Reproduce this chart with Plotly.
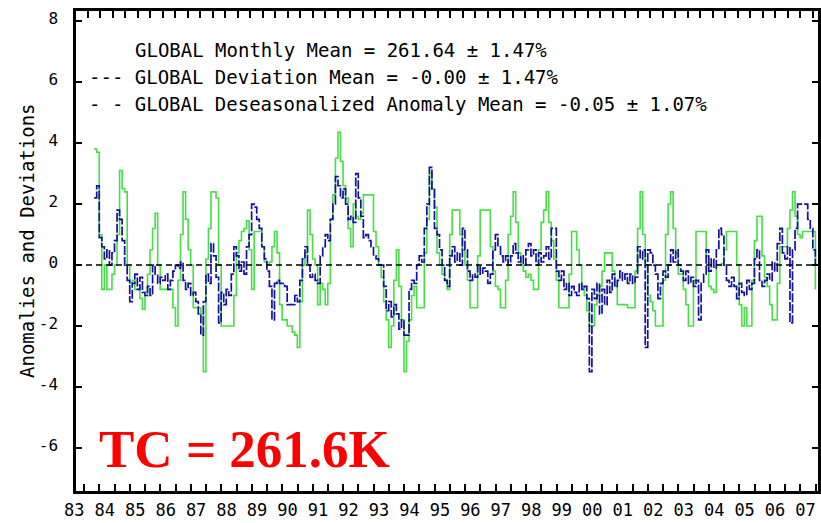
import pandas as pd
import plotly.graph_objects as go

# ---------------- data (monthly, starting Sep 1983) ----------------
g1983 = [3.8, 3.7, 1.0]
g1984 = [-0.8, 0.0, -0.8, -0.8, -0.3, 0.0, 1.0, 3.1, 2.5, 2.4, 0.0, -0.6]
g1985 = [-0.5, -0.8, -0.8, -1.1, -1.45, -1.0, -0.3, 0.5, 1.2, 1.7, 0.0, -0.8]
g1986 = [-0.8, -0.8, -0.8, -0.8, -1.4, -2.0, -0.5, 1.0, 2.4, 1.5, 0.5, 0.0]
g1987 = [-1.4, -1.4, -1.4, -1.6, -3.5, 0.2, 1.2, 2.4, 2.4, 2.2, 0.0, -2.0]
g1988 = [-2.0, -2.0, -2.0, -2.0, -1.0, 0.4, 0.8, 1.1, 1.2, 1.45, 0.5, -0.8]
g1989 = [1.1, 1.1, 1.1, 0.6, 0.1, 0.0, 0.1, 0.6, 1.1, 0.4, -1.3, -1.8]
g1990 = [-1.8, -2.0, -2.0, -2.2, -2.3, -2.7, -1.2, 0.0, 0.4, 1.8, 1.0, 0.2]
g1991 = [0.0, -1.3, -0.6, -0.8, -1.3, -0.6, 1.5, 2.3, 3.5, 4.35, 3.4, 2.6]
g1992 = [2.2, 1.2, 0.6, 2.0, 1.6, 1.5, 1.7, 2.3, 2.3, 2.3, 2.3, 1.1]
g1993 = [0.6, 0.0, -0.4, -1.2, -1.8, -2.7, -2.0, -0.5, 0.5, -0.7, -1.8, -3.5]
g1994 = [-2.5, -1.8, -1.0, -0.7, -1.4, -1.4, -1.4, 0.4, 1.5, 3.0, 2.5, 1.9]
g1995 = [0.4, 0.0, -0.3, -0.5, -0.8, 1.0, 1.8, 1.8, 1.8, 1.0, 0.5, 0.0]
g1996 = [-0.5, -1.4, -1.4, -1.4, 0.3, 1.8, 1.8, 1.8, 1.8, 0.6, -0.2, -0.7]
g1997 = [-0.8, -1.4, -1.4, -0.5, 1.0, 1.6, 2.4, 1.4, 0.4, 0.0, -0.2, -0.4]
g1998 = [-0.3, -0.5, -0.8, -0.8, 0.5, 1.4, 1.8, 2.4, 1.4, 0.8, 0.2, -0.5]
g1999 = [-1.4, -1.4, -1.4, -1.4, -0.3, 1.1, 1.1, 0.5, 0.0, -0.7, -1.0, -1.5]
g2000 = [-2.0, -2.0, -1.3, -1.0, -0.7, -0.2, 0.4, 0.4, 0.4, -0.2, -0.7, -1.3]
g2001 = [-1.3, -1.3, -1.3, -1.4, -1.4, -1.4, -0.2, 1.2, 2.4, 1.0, 0.0, -1.0]
g2002 = [-1.2, -1.5, -2.0, -2.0, -2.0, -0.5, 1.0, 2.0, 2.4, 1.2, 0.4, -0.3]
g2003 = [-0.3, -0.8, -1.3, -2.0, -2.0, -0.5, 1.1, 1.1, 1.1, 1.1, 0.3, -0.7]
g2004 = [-0.8, -0.9, 0.0, 0.0, 0.05, 0.5, 1.1, 1.1, 1.1, 1.1, 0.0, -1.3]
g2005 = [-2.0, -1.4, -2.0, -2.0, -0.5, 0.8, 1.6, 1.6, 0.3, -0.4, -0.7, -1.3]
g2006 = [-1.8, -1.8, -0.6, 0.6, 0.6, 0.6, 1.2, 1.8, 2.4, 1.6, 1.0, 0.9]
g2007 = [1.1, 1.1, 1.1, 1.1, 1.1, -0.8]

b1983 = [2.2, 2.6, 0.9]
b1984 = [0.6, 0.2, 0.5, 0.0, 0.4, 0.8, 1.8, 1.5, 0.8, 0.0, -0.5, -1.2]
b1985 = [-0.6, -0.3, -0.8, -0.4, -0.9, -1.0, -0.7, -1.0, 0.0, -0.3, -0.6, -0.4]
b1986 = [-0.5, -0.3, -0.8, -0.5, -0.2, 0.0, -0.1, 0.1, -0.5, -0.8, -0.6, -1.0]
b1987 = [-0.9, -1.2, -1.6, -2.3, -1.2, -0.3, -0.6, 0.7, 0.3, -0.4, -1.9, -0.9]
b1988 = [-1.3, -0.8, -1.0, -0.3, 0.6, 0.3, -0.2, 0.1, -0.3, 0.6, 1.0, 2.0]
b1989 = [1.9, 1.5, 1.2, 0.6, 0.2, -0.2, -0.7, -1.8, -0.6, -0.5, -0.6, -0.6]
b1990 = [-0.7, -1.3, -1.3, -1.3, -1.0, -1.2, -0.5, 0.2, 0.6, 0.0, -0.4, -0.3]
b1991 = [-0.5, -0.6, 0.3, 0.6, 1.0, 0.8, 1.5, 2.0, 2.9, 2.6, 2.2, 2.5]
b1992 = [2.0, 1.5, 1.6, 1.4, 3.0, 2.2, 1.6, 0.9, 1.0, 0.8, 0.6, 0.3]
b1993 = [0.2, 0.0, 0.0, -0.7, -1.5, -1.2, -1.7, -1.3, -1.6, -2.1, -1.8, -2.3]
b1994 = [-2.3, -0.8, -0.5, -0.6, 0.0, 0.3, 0.1, 1.2, 2.0, 3.2, 2.5, 1.2]
b1995 = [1.0, 0.5, 0.0, -0.5, -0.7, 0.3, 0.6, 0.1, 0.4, 0.0, 1.2, 0.5]
b1996 = [-0.2, -0.5, -0.3, -0.4, 0.0, -0.3, -0.1, -0.2, -0.6, -0.3, 0.5, 1.0]
b1997 = [0.6, 0.3, 0.1, 0.3, 0.0, 0.3, 0.7, 0.4, 0.1, 0.3, 0.0, 0.5]
b1998 = [0.7, 0.3, 0.5, 0.0, 0.4, 0.1, 0.3, 0.6, 0.2, 1.2, 1.2, -0.2]
b1999 = [-0.5, -0.2, -0.8, -0.6, -1.0, -0.7, -0.9, -1.0, -0.6, -0.8, -0.7, -1.1]
b2000 = [-3.5, -0.8, -1.1, -0.6, -1.6, -0.8, -1.3, -0.5, -0.9, -0.3, -0.7, -0.5]
b2001 = [-0.2, -0.5, -0.3, -0.6, -0.3, -0.6, -0.4, 0.6, 0.2, 0.5, -2.7, 0.5]
b2002 = [0.4, 0.0, -0.3, -1.1, -0.6, -0.2, -0.4, 0.0, 0.5, 0.1, 0.5, 0.0]
b2003 = [-0.2, -0.5, -0.2, -0.6, -0.4, -0.7, -0.5, -1.8, -0.6, -0.3, 0.5, -0.2]
b2004 = [0.2, -0.1, 0.5, 1.2, 1.0, 0.0, -0.5, -0.7, -0.4, -0.7, -1.1, -0.6]
b2005 = [-0.9, -1.0, -0.5, -0.8, -0.6, 0.2, 0.5, -0.5, -0.7, -0.5, -0.3, -0.5]
b2006 = [0.1, -0.2, 0.7, 1.2, 0.4, 0.2, 0.6, -1.9, 0.5, 1.2, 2.0, 2.0]
b2007 = [2.0, 2.0, 1.5, 1.2, 0.5, 0.0]

deviation = (g1983 + g1984 + g1985 + g1986 + g1987 + g1988 + g1989 + g1990 + g1991
             + g1992 + g1993 + g1994 + g1995 + g1996 + g1997 + g1998 + g1999 + g2000
             + g2001 + g2002 + g2003 + g2004 + g2005 + g2006 + g2007)
anomaly = (b1983 + b1984 + b1985 + b1986 + b1987 + b1988 + b1989 + b1990 + b1991
           + b1992 + b1993 + b1994 + b1995 + b1996 + b1997 + b1998 + b1999 + b2000
           + b2001 + b2002 + b2003 + b2004 + b2005 + b2006 + b2007)

years = list(range(1983, 2008))
year_labels = ["83", "84", "85", "86", "87", "88", "89", "90", "91", "92", "93", "94", "95",
               "96", "97", "98", "99", "00", "01", "02", "03", "04", "05", "06", "07"]
y_ticks = [-6, -4, -2, 0, 2, 4, 6, 8]
y_tick_labels = ["-6", "-4", "-2", "0", "2", "4", "6", "8"]

legend_lines = [
    "GLOBAL Monthly Mean = 261.64 ± 1.47%",
    "--- GLOBAL Deviation Mean = -0.00 ± 1.47%",
    "- - GLOBAL Deseasonalized Anomaly Mean = -0.05 ± 1.07%",
]
big_label = "TC = 261.6K"
y_title = "Anomalies and Deviations"

# ---------------- build ----------------
months = pd.date_range("1983-09-01", periods=len(deviation), freq="MS")
xdec = [d.year + (d.month - 1) / 12 for d in months]

MONO = "DejaVu Sans Mono"
XR = [1983.07, 2007.42]
YR = [-7.41, 8.33]

fig = go.Figure()
fig.add_trace(go.Scatter(x=xdec, y=deviation, mode="lines", line_shape="hv",
                         line=dict(color="#44e044", width=1.6), showlegend=False))
fig.add_trace(go.Scatter(x=xdec, y=anomaly, mode="lines", line_shape="hv",
                         line=dict(color="#12129c", width=1.7, dash="9px,2px"),
                         showlegend=False))
fig.add_trace(go.Scatter(x=[], y=[], xaxis="x2", showlegend=False))

fig.add_hline(y=0, line=dict(color="black", width=1.5, dash="6px,4px"))

top_ticks = [1983.46 + 0.41 * k for k in range(60) if 1983.46 + 0.41 * k < XR[1]]

fig.update_layout(
    width=821, height=523,
    margin=dict(l=76, r=3, t=11, b=32),
    paper_bgcolor="white", plot_bgcolor="white",
    xaxis=dict(range=XR, showgrid=False, zeroline=False, automargin=False,
               showline=True, linewidth=2.5, linecolor="black", mirror=False,
               ticks="inside", ticklen=7, tickwidth=2, tickcolor="black",
               tickmode="array", tickvals=[y + 0.34 for y in years], ticktext=year_labels,
               ticklabelshift=-10, ticklabelstandoff=2,
               tickfont=dict(family=MONO, size=17, color="black"),
               minor=dict(tickmode="array", tickvals=[y + 0.84 for y in years],
                          ticks="inside", ticklen=7, tickwidth=2, tickcolor="black")),
    xaxis2=dict(range=XR, overlaying="x", side="top", showgrid=False, zeroline=False,
                automargin=False,
                showline=True, linewidth=2.5, linecolor="black",
                ticks="inside", ticklen=7, tickwidth=2, tickcolor="black",
                tickmode="array", tickvals=top_ticks, showticklabels=False),
    yaxis=dict(range=YR, showgrid=False, zeroline=False, automargin=False,
               showline=True, linewidth=2.5, linecolor="black", mirror="ticks",
               ticks="inside", ticklen=6, tickwidth=2, tickcolor="black",
               tickmode="array", tickvals=y_ticks, ticktext=y_tick_labels,
               ticklabelshift=-3, ticklabelstandoff=12,
               tickfont=dict(family=MONO, size=16, color="black")),
)

W, H, L, B = 742.0, 480.0, 76.0, 491.0
ann_font = dict(family=MONO, size=19, color="black")
fig.add_annotation(text=legend_lines[0], xref="paper", yref="paper",
                   x=(133 - L) / W, y=(B - 50) / H, xanchor="left", yanchor="middle",
                   showarrow=False, font=ann_font)
fig.add_annotation(text=legend_lines[1], xref="paper", yref="paper",
                   x=(87 - L) / W, y=(B - 77) / H, xanchor="left", yanchor="middle",
                   showarrow=False, font=ann_font)
fig.add_annotation(text=legend_lines[2], xref="paper", yref="paper",
                   x=(87 - L) / W, y=(B - 104) / H, xanchor="left", yanchor="middle",
                   showarrow=False, font=ann_font)
fig.add_annotation(text=big_label, xref="paper", yref="paper",
                   x=(97 - L) / W, y=(B - 449) / H, xanchor="left", yanchor="middle",
                   showarrow=False,
                   font=dict(family="Liberation Serif", size=53, color="#ff0000",
                             weight="bold"))
fig.add_annotation(text=y_title, xref="paper", yref="paper",
                   x=(27 - L) / W, y=(B - 241) / H, xanchor="center", yanchor="middle",
                   textangle=-90, showarrow=False, font=ann_font)

fig.write_html("out.html")
